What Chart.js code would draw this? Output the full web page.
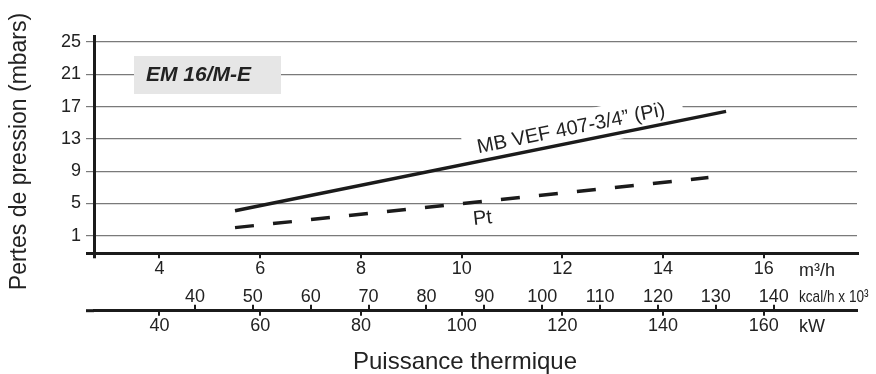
<!DOCTYPE html>
<html>
<head>
<meta charset="utf-8">
<script src="https://cdn.jsdelivr.net/npm/chart.js@4"></script>
<style>
  html, body { margin: 0; padding: 0; background: #fff; }
  #wrap { width: 876px; height: 374px; }
</style>
</head>
<body>
<div id="wrap"><canvas id="lossChart"></canvas></div>
<script>
// Débit gaz (m3/h) et pertes de charge (mbar) des deux courbes
const flowPi = [5.5, 15.25];
const lossPi = [4.1, 16.4];
const flowPt = [5.5, 14.9];
const lossPt = [2.0, 8.2];

// graduations des axes
const flowTicks = [4, 6, 8, 10, 12, 14, 16];
const kcalTicks = [40, 50, 60, 70, 80, 90, 100, 110, 120, 130, 140];
const kwTicks = [40, 60, 80, 100, 120, 140, 160];
const lossTicks = [1, 5, 9, 13, 17, 21, 25];

// bornes des échelles
const FLOW_MIN = 2.7, FLOW_MAX = 17.85;
const LOSS_MIN = -1.18, LOSS_MAX = 25.74;
const KCAL_MIN = 22.55, KCAL_MAX = 154.4;
const KW_MIN = 27, KW_MAX = 178.5;

const FONT = "'Liberation Sans', Arial, sans-serif";
const ink = '#1b1b1b';

function toPoints(xs, ys) {
  return xs.map((x, i) => ({ x: x, y: ys[i] }));
}

// remplace les graduations auto par une liste fixe
function fixedTicks(list, withMin) {
  return function (scale) {
    const t = list.map(v => ({ value: v }));
    if (withMin) t.unshift({ value: scale.min });
    scale.ticks = t;
  };
}

// position et angle le long d'une courbe (t entre 0 et 1)
function alongLine(chart, i, t) {
  const pts = chart.getDatasetMeta(i).data;
  const p0 = pts[0], p1 = pts[pts.length - 1];
  return {
    x: p0.x + (p1.x - p0.x) * t,
    y: p0.y + (p1.y - p0.y) * t,
    a: Math.atan2(p1.y - p0.y, p1.x - p0.x)
  };
}

const piLabel = 'MB VEF 407-3/4\u201D (Pi)';

const overlay = {
  id: 'overlay',
  beforeDatasetsDraw(chart) {
    const { ctx, chartArea: a } = chart;
    ctx.save();
    // cartouche du modèle
    ctx.fillStyle = '#e6e6e6';
    ctx.fillRect(a.left + 40, a.top + 20, 147, 38);

    // fond blanc sous l'étiquette Pi
    const p = alongLine(chart, 0, 0.69);
    ctx.font = '20px ' + FONT;
    const w = ctx.measureText(piLabel).width;
    ctx.translate(p.x, p.y);
    ctx.rotate(p.a);
    ctx.fillStyle = '#fff';
    ctx.fillRect(-w / 2 - 14, -30, w + 32, 36);
    ctx.restore();
  },
  afterDatasetsDraw(chart) {
    const { ctx, chartArea: a } = chart;
    ctx.save();
    ctx.fillStyle = '#222';
    ctx.font = 'italic bold 21px ' + FONT;
    ctx.textBaseline = 'middle';
    ctx.fillText('EM 16/M-E', a.left + 52, a.top + 39);

    let p = alongLine(chart, 0, 0.69);
    ctx.save();
    ctx.translate(p.x, p.y);
    ctx.rotate(p.a);
    ctx.font = '20px ' + FONT;
    ctx.textAlign = 'center';
    ctx.textBaseline = 'alphabetic';
    ctx.fillText(piLabel, 0, -8);
    ctx.restore();

    p = alongLine(chart, 1, 0.519);
    ctx.save();
    ctx.translate(p.x, p.y);
    ctx.rotate(p.a);
    ctx.font = '20px ' + FONT;
    ctx.textAlign = 'center';
    ctx.textBaseline = 'middle';
    ctx.fillText('Pt', 0, 17);
    ctx.restore();
    ctx.restore();
  },
  afterDraw(chart) {
    const { ctx } = chart;
    const sx = chart.scales.x, sk = chart.scales.kcal, sw = chart.scales.kw;
    ctx.save();
    ctx.strokeStyle = ink;
    // le trait kW déborde un peu à gauche, comme l'axe du haut
    ctx.lineWidth = 3;
    ctx.beginPath();
    ctx.moveTo(sw.left - 8, sw.top);
    ctx.lineTo(sw.left, sw.top);
    ctx.stroke();

    // petites graduations kcal, vers le haut
    ctx.lineWidth = 2;
    kcalTicks.forEach(v => {
      const x = Math.round(sk.getPixelForValue(v));
      ctx.beginPath();
      ctx.moveTo(x, sw.top);
      ctx.lineTo(x, sw.top - 6);
      ctx.stroke();
    });

    // unités en bout d'axe
    ctx.fillStyle = '#222';
    ctx.textBaseline = 'middle';
    const ux = sx.right - 58;
    ctx.font = '18px ' + FONT;
    ctx.fillText('m\u00B3/h', ux, sx.top + 17.5);
    ctx.fillText('kW', ux, sw.top + 16);
    ctx.save();
    ctx.translate(ux, sk.top + 14);
    ctx.scale(0.8, 1);
    ctx.font = '17px ' + FONT;
    ctx.fillText('kcal/h x 10\u00B3', 0, 0);
    ctx.restore();

    // titres des axes
    ctx.font = '24px ' + FONT;
    ctx.textAlign = 'center';
    ctx.fillText('Puissance thermique', 465, 362);
    ctx.translate(19.5, 151.5);
    ctx.rotate(-Math.PI / 2);
    ctx.font = '23px ' + FONT;
    ctx.fillText('Pertes de pression (mbars)', 0, 0);
    ctx.restore();
  }
};

const tickFont = { family: FONT, size: 18 };

new Chart(document.getElementById('lossChart'), {
  type: 'line',
  data: {
    datasets: [{
      label: 'MB VEF 407-3/4 (Pi)',
      data: toPoints(flowPi, lossPi),
      borderColor: ink,
      borderWidth: 3.5,
      pointRadius: 0,
      tension: 0
    }, {
      label: 'Pt',
      data: toPoints(flowPt, lossPt),
      borderColor: ink,
      borderWidth: 3.5,
      borderDash: [19, 19.2],
      pointRadius: 0,
      tension: 0
    }]
  },
  options: {
    responsive: true,
    maintainAspectRatio: false,
    animation: false,
    devicePixelRatio: 1,
    layout: { padding: { top: 36, right: 19, left: 0, bottom: 0 } },
    plugins: {
      legend: { display: false },
      tooltip: { enabled: false }
    },
    scales: {
      y: {
        type: 'linear',
        position: 'left',
        min: LOSS_MIN,
        max: LOSS_MAX,
        afterBuildTicks: fixedTicks(lossTicks, true),
        afterFit: s => { s.width = 94; },
        grid: {
          color: c => (c.tick && c.tick.value === LOSS_MIN ? ink : '#7a7a7a'),
          lineWidth: c => (c.tick && c.tick.value === LOSS_MIN ? 3 : 1.2),
          tickLength: 8
        },
        border: { color: ink, width: 3 },
        ticks: {
          padding: 5,
          color: '#222',
          font: tickFont,
          callback: v => (v === LOSS_MIN ? '' : v)
        }
      },
      x: {
        type: 'linear',
        position: 'bottom',
        weight: 0,
        min: FLOW_MIN,
        max: FLOW_MAX,
        afterBuildTicks: fixedTicks(flowTicks, true),
        afterFit: s => { s.height = 29.7; },
        grid: {
          drawOnChartArea: false,
          tickLength: 5,
          color: ink,
          lineWidth: c => (c.tick && c.tick.value === FLOW_MIN ? 3 : 2)
        },
        border: { color: ink, width: 3 },
        ticks: {
          padding: 0,
          maxRotation: 0,
          autoSkip: false,
          color: '#222',
          font: tickFont,
          callback: v => (v === FLOW_MIN ? '' : v)
        }
      },
      kcal: {
        type: 'linear',
        position: 'bottom',
        weight: 1,
        min: KCAL_MIN,
        max: KCAL_MAX,
        afterBuildTicks: fixedTicks(kcalTicks),
        afterFit: s => { s.height = 27.7; },
        grid: { display: false, drawTicks: false },
        border: { display: false },
        ticks: {
          padding: 2.9,
          maxRotation: 0,
          autoSkip: false,
          color: '#222',
          font: tickFont
        }
      },
      kw: {
        type: 'linear',
        position: 'bottom',
        weight: 2,
        min: KW_MIN,
        max: KW_MAX,
        afterBuildTicks: fixedTicks(kwTicks),
        afterFit: s => { s.height = 63.3; },
        grid: {
          drawOnChartArea: false,
          tickLength: 5,
          color: ink,
          lineWidth: 2
        },
        border: { color: ink, width: 3 },
        ticks: {
          padding: 0,
          maxRotation: 0,
          autoSkip: false,
          color: '#222',
          font: tickFont
        }
      }
    }
  },
  plugins: [overlay]
});
</script>
</body>
</html>
